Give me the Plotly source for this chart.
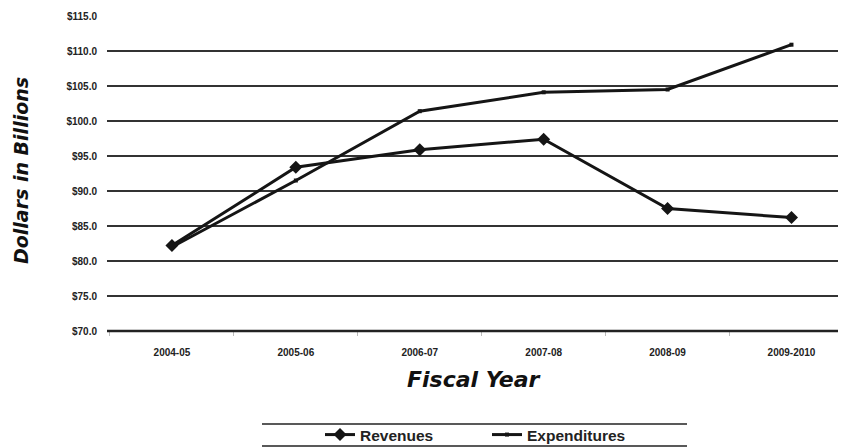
import plotly.graph_objects as go

years = ["2004-05", "2005-06", "2006-07", "2007-08", "2008-09", "2009-2010"]
revenues = [82.2, 93.4, 95.9, 97.4, 87.5, 86.2]
expenditures = [82.0, 91.5, 101.4, 104.1, 104.5, 110.9]
y_ticks = [70, 75, 80, 85, 90, 95, 100, 105, 110, 115]
y_tick_labels = ["$%.1f" % v for v in y_ticks]

OFF = 8  # page body margin
W, H = 846 - OFF, 447 - OFF
# plot area in screen pixels: x 107..846, y 16..331
L, R, T, B = 107 - OFF, 0, 16 - OFF, 447 - 331
pw, ph = W - L - R, H - T - B

def px_x(x):
    return (x - OFF - L) / pw

def px_y(y):
    return (H - B - (y - OFF)) / ph

fig = go.Figure()
fig.add_trace(go.Scatter(
    x=years, y=revenues, name="Revenues", mode="lines+markers",
    line=dict(color="#151515", width=3),
    marker=dict(symbol="diamond", size=10, color="#151515"),
))
fig.add_trace(go.Scatter(
    x=years, y=expenditures, name="Expenditures", mode="lines+markers",
    line=dict(color="#151515", width=3),
    marker=dict(symbol="square", size=4, color="#151515"),
))

tick_font = dict(family="Liberation Sans Narrow, Liberation Sans, Arial", size=10,
                 color="#222", weight="bold")

fig.update_layout(
    width=W, height=H,
    margin=dict(l=L, r=R, t=T, b=B, autoexpand=False),
    paper_bgcolor="white", plot_bgcolor="white",
    showlegend=True,
    legend=dict(
        orientation="h", x=px_x(487), xanchor="center", y=px_y(435), yanchor="middle",
        font=dict(family="Liberation Sans, Arial", size=15.5, color="#222", weight="bold"),
        entrywidth=122, entrywidthmode="pixels",
        bgcolor="rgba(0,0,0,0)", itemclick=False,
    ),
    xaxis=dict(
        type="category", range=[-0.524, 5.44],
        showgrid=False, zeroline=False, automargin=False,
        showline=False,
        ticks="outside", tickson="boundaries", ticklen=4, tickcolor="#bbb",
        tickfont=tick_font, ticklabelstandoff=14,
    ),
    yaxis=dict(
        range=[70, 115], tickvals=y_ticks, ticktext=y_tick_labels,
        showgrid=True, gridcolor="#333", gridwidth=1.5, automargin=False,
        zeroline=False, showline=False, ticks="",
        tickfont=tick_font, ticklabelstandoff=9,
    ),
    annotations=[
        dict(text="<b><i>Dollars in Billions</i></b>", x=px_x(21), y=px_y(171),
             xref="paper", yref="paper", showarrow=False, textangle=-90,
             xanchor="center", yanchor="middle",
             font=dict(family="DejaVu Sans", size=19, color="#111")),
        dict(text="<b><i>Fiscal Year</i></b>", x=px_x(474), y=px_y(380),
             xref="paper", yref="paper", showarrow=False,
             xanchor="center", yanchor="middle",
             font=dict(family="DejaVu Sans", size=22, color="#111")),
    ],
    shapes=[
        dict(type="line", xref="paper", yref="paper", x0=0, x1=1, y0=0, y1=0,
             line=dict(color="#222", width=2.5)),
        dict(type="line", xref="paper", yref="paper", x0=px_x(262), x1=px_x(687),
             y0=px_y(424), y1=px_y(424), line=dict(color="#222", width=1.5)),
        dict(type="line", xref="paper", yref="paper", x0=px_x(262), x1=px_x(687),
             y0=px_y(446), y1=px_y(446), line=dict(color="#222", width=1.5)),
    ],
)

fig.write_html("out.html")
